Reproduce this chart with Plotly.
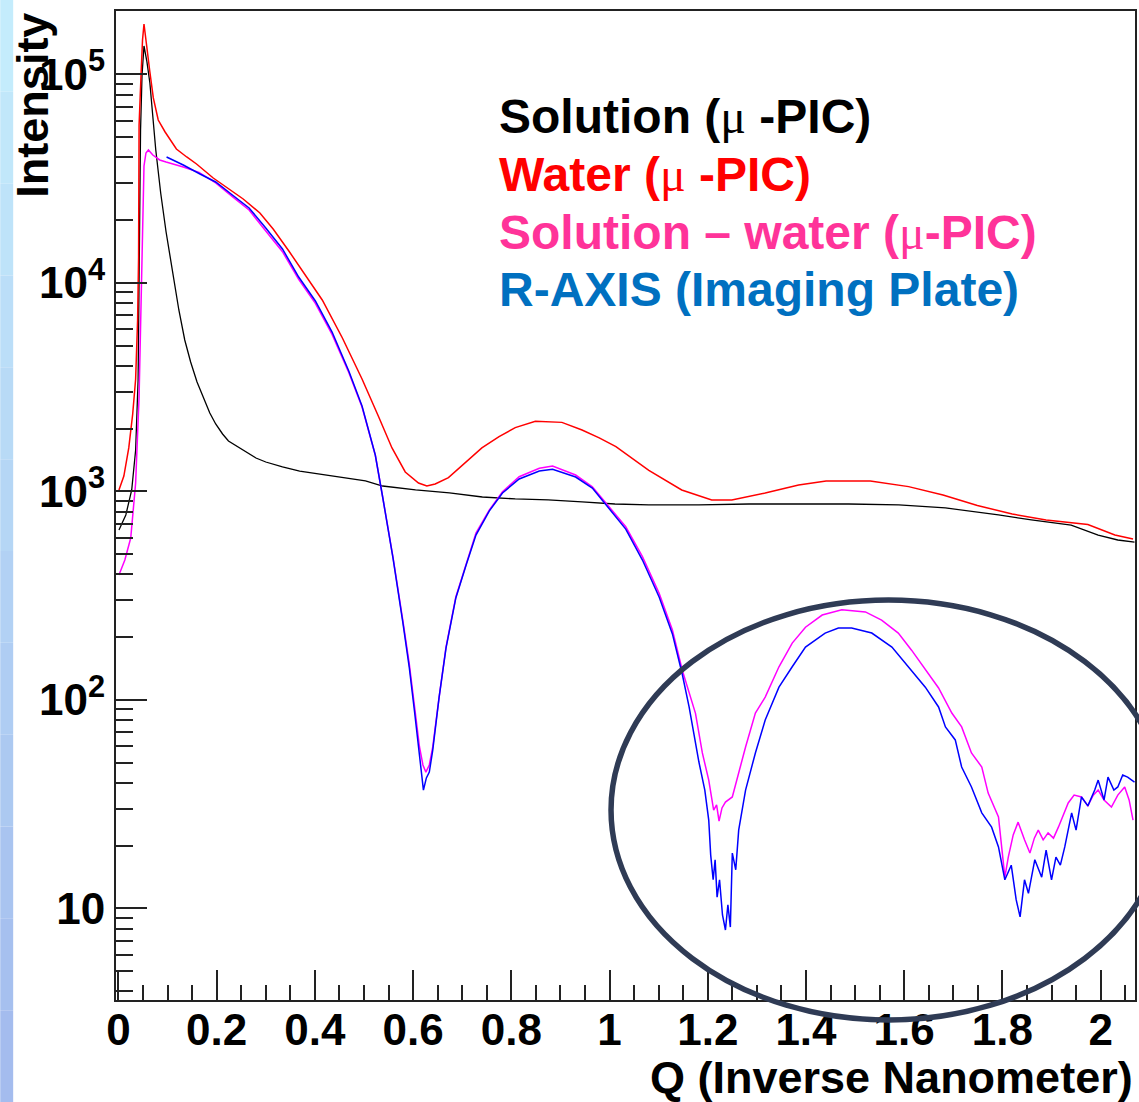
import plotly.graph_objects as go

# ---------------- data ----------------
q_solution = [0.001, 0.015, 0.027, 0.035, 0.040, 0.042, 0.045, 0.048, 0.052, 0.058, 0.064, 0.076,
              0.086, 0.097, 0.109, 0.123, 0.135, 0.147, 0.160, 0.172, 0.186, 0.198, 0.212, 0.224,
              0.243, 0.259, 0.280, 0.300, 0.334, 0.369, 0.436, 0.503, 0.538, 0.605, 0.674, 0.741,
              0.808, 0.875, 0.944, 1.011, 1.080, 1.182, 1.284, 1.385, 1.487, 1.589, 1.684, 1.792,
              1.859, 1.940, 1.995, 2.035, 2.069]
i_solution = [652, 770, 1015, 1578, 3420, 14370, 54070, 99200, 136700, 114600, 90850, 43350,
              26960, 17520, 11780, 7406, 5318, 4172, 3344, 2834, 2375, 2103, 1883, 1743,
              1632, 1543, 1444, 1382, 1308, 1251, 1184, 1121, 1060, 1015, 982, 939,
              919, 909, 889, 869, 860, 860, 869, 869, 869, 860, 832, 770,
              729, 689, 617, 584, 571]

q_water = [0.001, 0.011, 0.021, 0.029, 0.035, 0.039, 0.041, 0.042, 0.046, 0.049, 0.052, 0.057,
           0.064, 0.071, 0.081, 0.095, 0.105, 0.118, 0.139, 0.159, 0.193, 0.220, 0.254, 0.288,
           0.315, 0.347, 0.381, 0.415, 0.456, 0.496, 0.530, 0.557, 0.584, 0.611, 0.628, 0.645,
           0.672, 0.708, 0.740, 0.775, 0.808, 0.849, 0.903, 0.944, 0.979, 1.013, 1.080, 1.147,
           1.208, 1.249, 1.317, 1.385, 1.441, 1.531, 1.609, 1.679, 1.749, 1.820, 1.889, 1.974,
           2.029, 2.066]
i_water = [1015, 1184, 1614, 2349, 3457, 6630, 13300, 57100, 99200, 146100, 174300, 136700,
           102600, 77000, 60370, 52880, 48940, 43830, 40130, 37140, 31810, 28810, 25230, 21620,
           18120, 14210, 10780, 8270, 5436, 3457, 2272, 1614, 1238, 1096, 1061, 1084,
           1163, 1387, 1614, 1828, 2021, 2165, 2141, 1969, 1803, 1637, 1259, 1015,
           908, 908, 981, 1072, 1121, 1121, 1053, 960, 855, 778, 729, 693,
           617, 591]

q_diff = [0.001, 0.013, 0.025, 0.035, 0.042, 0.048, 0.052, 0.056, 0.061, 0.070, 0.084, 0.097,
          0.132, 0.164, 0.198, 0.232, 0.266, 0.300, 0.334, 0.367, 0.401, 0.435, 0.469, 0.496,
          0.523, 0.538, 0.559, 0.579, 0.592, 0.603, 0.613, 0.620, 0.626, 0.633, 0.640, 0.653,
          0.667, 0.687, 0.708, 0.728, 0.755, 0.782, 0.816, 0.857, 0.884, 0.931, 0.965, 0.999,
          1.033, 1.067, 1.101, 1.128, 1.148, 1.175, 1.189, 1.202, 1.212, 1.218, 1.223, 1.229,
          1.236, 1.250, 1.263, 1.277, 1.297, 1.317, 1.345, 1.372, 1.399, 1.433, 1.473, 1.521,
          1.554, 1.588, 1.615, 1.643, 1.670, 1.697, 1.717, 1.737, 1.758, 1.771, 1.792, 1.805,
          1.812, 1.822, 1.832, 1.845, 1.856, 1.865, 1.873, 1.883, 1.893, 1.904, 1.914, 1.934,
          1.946, 1.961, 1.974, 1.985, 1.995, 2.007, 2.022, 2.035, 2.049, 2.058, 2.066]
i_diff = [397, 468, 597, 1096, 2834, 15830, 36330, 41930, 43350, 41020, 38820, 37970,
          35930, 33850, 30170, 25910, 22340, 17720, 14100, 10390, 7964, 5649, 3718, 2537,
          1493, 939, 484, 241, 150, 92.4, 59.4, 48.7, 45.0, 48.7, 59.4, 103,
          179, 311, 453, 631, 813, 995, 1175, 1289, 1322, 1197, 1052, 844,
          676, 486, 324, 216, 139, 86.1, 55.6, 41.2, 29.6, 31.3, 26.2, 30.3,
          32.3, 34.2, 44.6, 59.4, 86.4, 103, 144, 187, 223, 255, 270, 264,
          241, 209, 173, 139, 114, 86.4, 74.1, 55.6, 47.6, 35.7, 27.4, 14.1,
          17.6, 22.5, 25.9, 21.3, 18.4, 21.7, 23.7, 21.3, 23.0, 21.7, 24.5, 32.0,
          34.9, 34.2, 31.0, 34.9, 36.9, 33.1, 30.6, 34.9, 38.2, 33.1, 26.5]

q_raxis = [0.098, 0.115, 0.132, 0.166, 0.198, 0.232, 0.266, 0.300, 0.334, 0.367, 0.401, 0.435,
           0.469, 0.496, 0.523, 0.538, 0.559, 0.579, 0.592, 0.603, 0.613, 0.621, 0.627, 0.633,
           0.640, 0.653, 0.667, 0.687, 0.708, 0.728, 0.755, 0.782, 0.816, 0.857, 0.884, 0.931,
           0.965, 0.999, 1.033, 1.067, 1.101, 1.128, 1.148, 1.162, 1.182, 1.194, 1.202, 1.206,
           1.211, 1.215, 1.219, 1.224, 1.230, 1.236, 1.241, 1.246, 1.250, 1.257, 1.263, 1.277,
           1.297, 1.317, 1.345, 1.372, 1.399, 1.439, 1.466, 1.493, 1.534, 1.575, 1.609, 1.643,
           1.670, 1.684, 1.704, 1.717, 1.737, 1.758, 1.778, 1.792, 1.805, 1.818, 1.828, 1.836,
           1.845, 1.853, 1.866, 1.880, 1.889, 1.900, 1.909, 1.918, 1.927, 1.941, 1.950, 1.961,
           1.974, 1.988, 1.995, 2.007, 2.015, 2.027, 2.035, 2.045, 2.055, 2.069]
i_raxis = [40130, 38390, 36730, 33250, 30440, 26370, 22850, 18310, 14530, 10660, 8179, 5807,
           3776, 2565, 1493, 939, 479, 236, 144, 87.4, 53.2, 36.9, 42.2, 45.0,
           57.4, 103, 177, 308, 443, 617, 804, 982, 1146, 1251, 1275, 1171,
           1037, 832, 659, 468, 311, 207, 133, 92.4, 50.3, 36.9, 26.5, 18.0,
           13.7, 17.1, 11.3, 13.7, 9.29, 7.87, 10.4, 8.13, 18.4, 15.3, 23.7, 36.9,
           55.6, 80.0, 115, 144, 179, 209, 221, 221, 209, 179, 144, 115,
           92.4, 74.1, 64.2, 47.6, 38.2, 28.7, 24.5, 19.7, 13.7, 16.1, 11.0, 9.09,
           13.7, 11.8, 17.1, 14.1, 19.0, 13.7, 17.6, 16.1, 19.7, 28.7, 23.7, 34.2,
           31.0, 36.9, 41.2, 33.1, 42.6, 36.9, 38.2, 43.6, 42.6, 40.3]

x_tickvals = [0, 0.2, 0.4, 0.6, 0.8, 1.0, 1.2, 1.4, 1.6, 1.8, 2.0]
x_ticktext = ["0", "0.2", "0.4", "0.6", "0.8", "1", "1.2", "1.4", "1.6", "1.8", "2"]
y_tickvals = [10, 100, 1000, 10000, 100000]
y_ticktext = ["10", "10<sup>2</sup>", "10<sup>3</sup>", "10<sup>4</sup>", "10<sup>5</sup>"]

MU = "<span style='font-family:Liberation Serif;font-weight:normal'>μ</span>"
legend_lines = ["Solution (" + MU + " -PIC)",
                "Water (" + MU + " -PIC)",
                "Solution – water (" + MU + "-PIC)",
                "R-AXIS (Imaging Plate)"]
legend_colors = ["#000000", "#ff0000", "#ff3399", "#0070c0"]

# ---------------- figure ----------------
FONT = "Liberation Sans, Arial, sans-serif"
fig = go.Figure()
fig.add_trace(go.Scatter(x=q_solution, y=i_solution, mode="lines",
                         line=dict(color="#000000", width=1.3), showlegend=False))
fig.add_trace(go.Scatter(x=q_water, y=i_water, mode="lines",
                         line=dict(color="#ff0000", width=1.5), showlegend=False))
fig.add_trace(go.Scatter(x=q_diff, y=i_diff, mode="lines",
                         line=dict(color="#ff00ff", width=1.5), showlegend=False))
fig.add_trace(go.Scatter(x=q_raxis, y=i_raxis, mode="lines",
                         line=dict(color="#0000ff", width=1.5), showlegend=False))

minor_y = [4, 5, 6, 7, 8, 9]
for dec in [10, 100, 1000, 10000]:
    for m in range(2, 10):
        minor_y.append(m * dec)

fig.update_xaxes(range=[-0.005, 2.07], showgrid=False, zeroline=False,
                 tickmode="array", tickvals=x_tickvals, ticktext=x_ticktext,
                 ticks="inside", ticklen=30, tickwidth=1.5, tickcolor="#222",
                 ticklabelstandoff=-10,
                 showline=True, linecolor="#222", linewidth=2, mirror=True,
                 tickfont=dict(family=FONT, size=44, color="black", weight="bold"),
                 minor=dict(tickmode="linear", tick0=0, dtick=0.05, ticks="inside",
                            ticklen=15, tickwidth=1.5, tickcolor="#222", showgrid=False))
fig.update_yaxes(type="log", range=[0.5602, 5.3036], showgrid=False, zeroline=False,
                 tickmode="array", tickvals=y_tickvals, ticktext=y_ticktext,
                 ticks="inside", ticklen=31, tickwidth=1.5, tickcolor="#222",
                 showline=True, linecolor="#222", linewidth=2, mirror=True,
                 tickfont=dict(family=FONT, size=44, color="black", weight="bold"),
                 minor=dict(tickmode="array", tickvals=minor_y, ticks="inside",
                            ticklen=17, tickwidth=1.5, tickcolor="#222", showgrid=False))

shapes = []
# light-blue slide background strip on the far left
n = 12
top = (196, 236, 252)
bot = (164, 188, 238)
for k in range(n):
    t = k / (n - 1)
    c = tuple(int(top[j] + (bot[j] - top[j]) * t) for j in range(3))
    shapes.append(dict(type="rect", xref="paper", yref="paper",
                       x0=-0.1136, x1=-0.1009,
                       y0=1.0111 - (k + 1) * (1.1142 / n), y1=1.0111 - k * (1.1142 / n),
                       fillcolor="rgb(%d,%d,%d)" % c, line=dict(width=0), layer="below"))
# highlight ellipse
shapes.append(dict(type="circle", xref="paper", yref="paper",
                   x0=0.4858, x1=1.0304, y0=-0.0202, y1=0.4044,
                   line=dict(color="#2f3b55", width=5.5)))

annotations = []
for k, (txt, col) in enumerate(zip(legend_lines, legend_colors)):
    annotations.append(dict(text=txt, xref="paper", yref="paper", x=0.3741,
                            y=0.8935 - k * 0.0585, xanchor="left", yanchor="middle",
                            showarrow=False,
                            font=dict(family=FONT, size=48, color=col, weight="bold")))
annotations.append(dict(text="Q (Inverse Nanometer)", xref="paper", yref="paper",
                        x=1.0, y=-0.078, xanchor="right", yanchor="middle", showarrow=False,
                        font=dict(family=FONT, size=45, color="black", weight="bold")))
annotations.append(dict(text="Intensity", xref="paper", yref="paper", textangle=-90,
                        x=-0.0823, y=1.0, xanchor="center", yanchor="top", showarrow=False,
                        font=dict(family=FONT, size=45, color="black", weight="bold")))

fig.update_layout(width=1139, height=1102, autosize=False,
                  margin=dict(l=116, r=2, t=11, b=102, pad=0),
                  paper_bgcolor="white", plot_bgcolor="white",
                  font=dict(family=FONT, color="black"),
                  shapes=shapes, annotations=annotations, showlegend=False)

fig.write_html("out.html", config={"displayModeBar": False},
               post_script="document.body.style.margin='0';document.body.style.padding='0';"
                           "document.body.style.overflow='hidden';")
